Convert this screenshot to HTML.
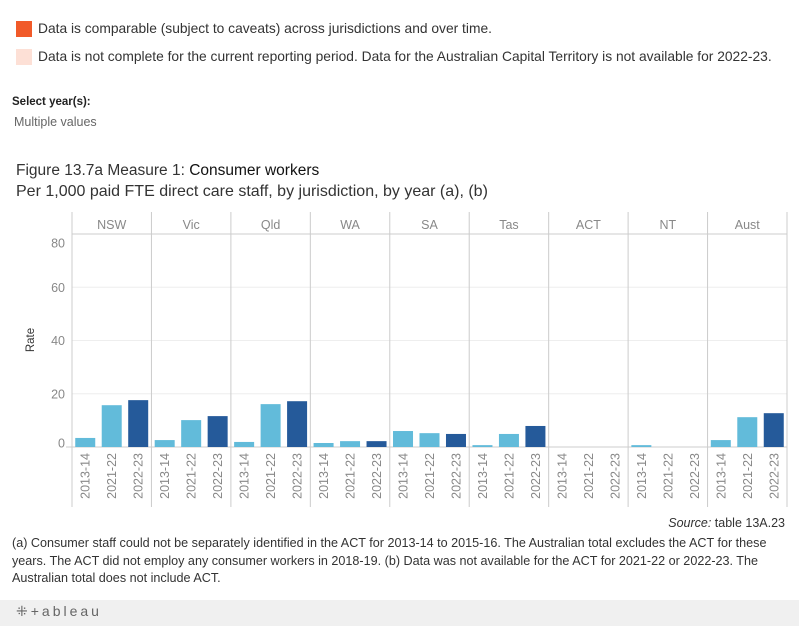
<!DOCTYPE html>
<html><head><meta charset="utf-8"><style>
body{margin:0;width:799px;height:626px;background:#fff;font-family:"Liberation Sans",sans-serif;position:relative;overflow:hidden}
.abs{position:absolute;white-space:nowrap}
</style></head><body>
<div class="abs" style="left:16px;top:21px;width:16px;height:16px;background:#f15a29"></div>
<div class="abs" style="left:38px;top:21px;font-size:13.8px;color:#333">Data is comparable (subject to caveats) across jurisdictions and over time.</div>
<div class="abs" style="left:16px;top:49px;width:16px;height:16px;background:#fde0d6"></div>
<div class="abs" style="left:38px;top:49px;font-size:13.8px;color:#333">Data is not complete for the current reporting period. Data for the Australian Capital Territory is not available for 2022-23.</div>
<div class="abs" style="left:12px;top:96px;font-size:11.5px;font-weight:bold;color:#222">Select year(s):</div>
<div class="abs" style="left:14px;top:115px;font-size:12.5px;color:#666">Multiple values</div>
<div class="abs" style="left:16px;top:162px;font-size:15.5px;color:#333">Figure 13.7a Measure 1: <span style="color:#111">Consumer workers</span></div>
<div class="abs" style="left:16px;top:183px;font-size:16px;color:#333">Per 1,000 paid FTE direct care staff, by jurisdiction, by year (a), (b)</div>
<svg id="chart" width="799" height="520" style="position:absolute;left:0;top:0"></svg>
<div class="abs" style="right:14px;top:516px;font-size:12.5px;color:#333"><i>Source:</i> table 13A.23</div>
<div class="abs" style="left:12px;top:535px;width:785px;white-space:normal;font-size:12.6px;line-height:17.5px;color:#333">(a) Consumer staff could not be separately identified in the ACT for 2013-14 to 2015-16. The Australian total excludes the ACT for these years. The ACT did not employ any consumer workers in 2018-19. (b) Data was not available for the ACT for 2021-22 or 2022-23. The Australian total does not include ACT.</div>
<div class="abs" style="left:0;top:600px;width:799px;height:26px;background:#f0f0f0"></div>
<div class="abs" style="left:16px;top:603px;font-size:14px;color:#666;letter-spacing:3px">⁜+ableau</div>
<script>
const jurisdictions=["NSW","Vic","Qld","WA","SA","Tas","ACT","NT","Aust"];
const years=["2013-14","2021-22","2022-23"];
const v2013=[3.4,2.6,1.9,1.5,6.0,0.7,null,0.7,2.6];
const v2021=[15.7,10.1,16.1,2.2,5.2,4.9,null,null,11.2];
const v2022=[17.6,11.6,17.2,2.2,4.9,7.9,null,null,12.7];
const yTicks=[0,20,40,60,80];
(function(){
const series=[v2013,v2021,v2022];
const colors=["#62bbda","#62bbda","#255a9a"];
const svg=document.getElementById('chart');const NS="http://www.w3.org/2000/svg";
const x0=72,x1=787,plotTop=234,base=447,hdrTop=212;
const pw=(x1-x0)/jurisdictions.length;
const y=v=>base-v*(base-plotTop)/80;
function mk(t,a){const e=document.createElementNS(NS,t);for(const k in a)e.setAttribute(k,a[k]);svg.appendChild(e);return e;}
yTicks.forEach(t=>{
 if(t>0&&t<80){const l=mk('line',{x1:x0,x2:x1,y1:y(t),y2:y(t),stroke:'#eee','stroke-width':1});
 
 }
 const ty=t===0?y(t)-4:(t===80?y(t)+9:y(t));
 const tx=mk('text',{x:65,y:ty+4.5,'text-anchor':'end','font-size':12.5,fill:'#888'});
 tx.textContent=t;
 
 
});
const yt=mk('text',{x:34,y:340,'text-anchor':'middle','font-size':11.5,fill:'#333',transform:'rotate(-90 34 340)'});
yt.textContent='Rate';


mk('line',{x1:x0,x2:x1,y1:plotTop,y2:plotTop,stroke:'#ccc'});
mk('line',{x1:x0-6,x2:x1,y1:base,y2:base,stroke:'#ccc'});
jurisdictions.forEach((j,i)=>{
 const px=x0+i*pw;
 const ln=mk('line',{x1:px,x2:px,y1:hdrTop,y2:507,stroke:'#ccc'});
 
 
 const h=mk('text',{x:px+pw/2,y:229,'text-anchor':'middle','font-size':12.5,fill:'#888'});
 h.textContent=j;
 
 
 const sw=pw/3;
 years.forEach((yr,k)=>{
  const cx=px+sw*k+sw/2;
  const val=series[k][i];
  if(val!=null){const r=mk('rect',{x:cx-10,y:y(val),width:20,height:base-y(val),fill:colors[k]});
  
  }
  const t=mk('text',{x:cx+4.5,y:453,'text-anchor':'end','font-size':12.5,fill:'#888',transform:`rotate(-90 ${cx+4.5} 453)`});
  t.textContent=yr;
  
  
 });
});
mk('line',{x1:x1,x2:x1,y1:hdrTop,y2:507,stroke:'#ccc'});
})();
</script>
</body></html>
